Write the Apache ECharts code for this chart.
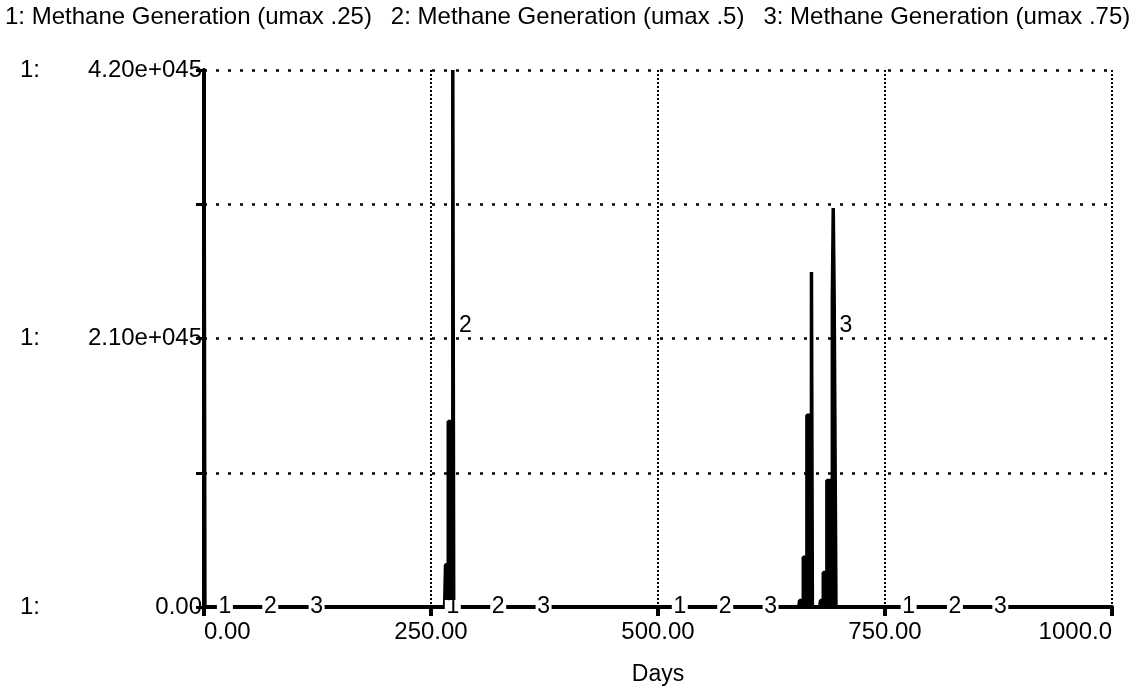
<!DOCTYPE html>
<html><head><meta charset="utf-8">
<script src="https://cdn.jsdelivr.net/npm/echarts@6/dist/echarts.min.js"></script>
<style>html,body{margin:0;padding:0;background:#fff}#c{width:1140px;height:693px}</style>
</head><body><div id="c"></div>
<script>
// ---- data ----
const seriesNames = ['Methane Generation (umax .25)', 'Methane Generation (umax .5)', 'Methane Generation (umax .75)'];
const xTickLabels = ['0.00', '250.00', '500.00', '750.00', '1000.0'];
const yTickLabels = ['0.00', '', '2.10e+045', '', '4.20e+045'];
// series 1 (umax .25)
const days1 = [0, 1, 1000];
const vals1 = [4.2e45, 0, 0];
// series 2 (umax .5)
const days2 = [0, 265, 266, 269, 274, 275, 1000];
const vals2 = [0, 0, 0.33e45, 1.45e45, 4.2e45, 0, 0];
// series 3 (umax .75)
const days3 = [0, 655, 656, 660, 664, 669, 670, 678, 679, 682, 686, 692, 693, 694, 696, 1000];
const vals3 = [0, 0, 0.05e45, 0.39e45, 1.50e45, 2.62e45, 0, 0, 0.05e45, 0.27e45, 0.99e45, 2.42e45, 3.12e45, 2.42e45, 0, 0];
// series identifier labels along the curves
const markDays1 = [23, 274, 524, 776];
const markDays2 = [73, 324, 574, 827];
const markDays3 = [124, 374, 624, 877];
const spikeLabelDays = [288, 707];
const spikeLabelVals = [2.2e45, 2.2e45];
const spikeLabelText = ['2', '3'];

// ---- chart ----
const FONT = 'Liberation Sans, Arial, sans-serif';
const zip = (a, b) => a.map((d, i) => [d, b[i]]);
function lineSeries(name, days, vals) {
  return {
    name, type: 'line', data: zip(days, vals), step: 'end', showSymbol: false, symbol: 'none',
    lineStyle: { color: '#000', width: 3.5 }, itemStyle: { color: '#000' },
    areaStyle: { color: '#000', opacity: 1 }, animation: false, z: 3
  };
}
const idData = [];
[markDays1, markDays2, markDays3].forEach((arr, k) => arr.forEach(d => idData.push([d, 0, String(k + 1)])));
const spikeData = spikeLabelDays.map((d, i) => [d, spikeLabelVals[i], spikeLabelText[i]]);

const chart = echarts.init(document.getElementById('c'), null, { renderer: 'canvas' });
chart.setOption({
  animation: false,
  backgroundColor: '#fff',
  textStyle: { fontFamily: FONT, color: '#000' },
  legend: {
    data: seriesNames, left: 0, top: 5, icon: 'none', itemWidth: 0, itemGap: 14, padding: [0, 0],
    formatter: n => (seriesNames.indexOf(n) + 1) + ': ' + n,
    textStyle: { fontFamily: FONT, fontSize: 24, color: '#000' },
    selectedMode: false
  },
  grid: { left: 204, right: 28, top: 70, bottom: 86, containLabel: false },
  xAxis: {
    type: 'value', min: 0, max: 1000, interval: 250,
    name: 'Days', nameLocation: 'middle', nameGap: 56,
    nameTextStyle: { fontFamily: FONT, fontSize: 23, color: '#000' },
    axisLine: { lineStyle: { color: '#000', width: 4 } },
    axisTick: { show: true, length: 9, lineStyle: { color: '#000', width: 4 } },
    axisLabel: {
      fontFamily: FONT, fontSize: 24, color: '#000', margin: 13,
      alignMinLabel: 'left', alignMaxLabel: 'right',
      formatter: v => xTickLabels[Math.round(v / 250)]
    },
    splitLine: { show: true, lineStyle: { color: '#000', width: 2, type: [2, 2] } }
  },
  yAxis: {
    type: 'value', min: 0, max: 4.2e45, interval: 1.05e45,
    axisLine: { show: true, lineStyle: { color: '#000', width: 4 } },
    axisTick: { show: true, length: 8, lineStyle: { color: '#000', width: 3 } },
    axisLabel: {
      fontFamily: FONT, fontSize: 24, color: '#000', margin: 2,
      formatter: v => {
        const t = yTickLabels[Math.round(v / 1.05e45)];
        return t ? '{p|1:}{v|' + t + '}' : '';
      },
      rich: {
        p: { width: 72, align: 'left', fontSize: 24, fontFamily: FONT, color: '#000' },
        v: { width: 110, align: 'right', fontSize: 24, fontFamily: FONT, color: '#000' }
      }
    },
    splitLine: { show: true, lineStyle: { color: '#000', width: 2.5, type: [3, 9] } }
  },
  series: [
    lineSeries(seriesNames[0], days1, vals1),
    lineSeries(seriesNames[1], days2, vals2),
    lineSeries(seriesNames[2], days3, vals3),
    {
      name: 'ids', type: 'scatter', data: idData, symbol: 'rect', symbolSize: [16, 14],
      itemStyle: { color: '#fff', opacity: 1 }, z: 10, animation: false, silent: true,
      label: { show: true, position: 'inside', formatter: p => p.value[2], fontFamily: FONT, fontSize: 23, color: '#000', opacity: 1 }
    },
    {
      name: 'spikeIds', type: 'scatter', data: spikeData, symbolSize: 1,
      itemStyle: { color: '#fff', opacity: 1 }, z: 10, animation: false, silent: true,
      label: { show: true, position: 'inside', formatter: p => p.value[2], fontFamily: FONT, fontSize: 23, color: '#000', opacity: 1 }
    }
  ]
});
</script></body></html>
